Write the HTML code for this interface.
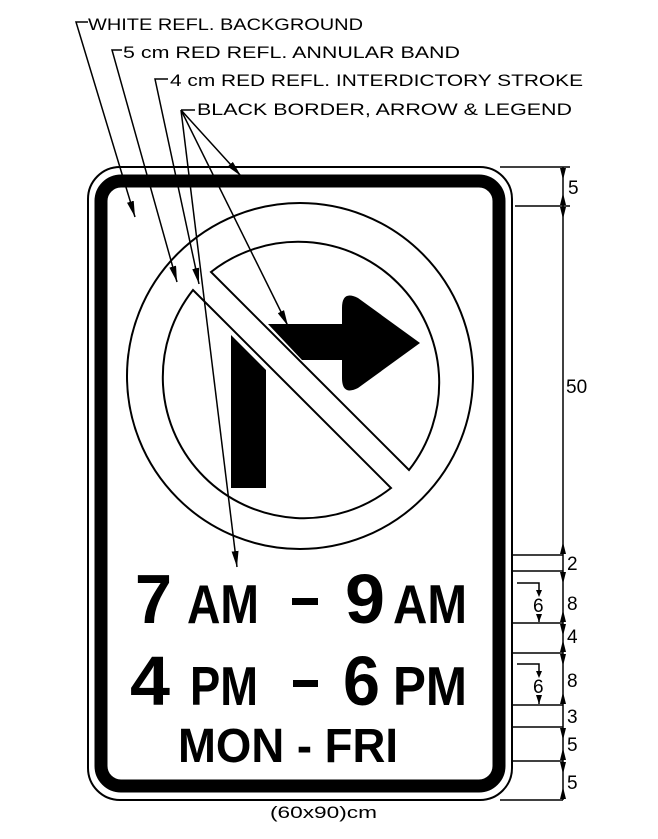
<!DOCTYPE html>
<html><head><style>
html,body{margin:0;padding:0;background:#fff;}
svg{display:block;}
text{font-family:"Liberation Sans",sans-serif;fill:#000;}
</style></head><body>
<svg width="658" height="839" viewBox="0 0 658 839" xmlns="http://www.w3.org/2000/svg">
<defs>
<marker id="ar2" markerWidth="16" markerHeight="7" refX="16" refY="3.5" orient="auto" markerUnits="userSpaceOnUse">
<path d="M0,0 L16,3.5 L0,7 Z" fill="#000"/>
</marker>
</defs>
<rect x="88" y="167" width="424" height="633" rx="32" fill="#fff" stroke="#000" stroke-width="2"/>
<rect x="101" y="181" width="398" height="605" rx="20" fill="none" stroke="#000" stroke-width="13"/>
<circle cx="300" cy="376" r="173" fill="none" stroke="#000" stroke-width="2"/>
<path d="M211,272 A141,141 0 0 1 409,470 Z" fill="none" stroke="#000" stroke-width="2"/>
<path d="M391,488 A141,141 0 0 1 193,290 Z" fill="none" stroke="#000" stroke-width="2"/>
<path d="M268,324 L342,324 L342,308 Q342,290 358,298 L420,343 L358,388 Q342,396 342,378 L342,360 L302,360 Z" fill="#000"/>
<path d="M231,335 L266,370 L266,488 L231,488 Z" fill="#000"/>
<text x="135" y="623" font-size="70" font-weight="bold" textLength="37" lengthAdjust="spacingAndGlyphs">7</text>
<text x="187" y="623" font-size="55" font-weight="bold" textLength="72" lengthAdjust="spacingAndGlyphs">AM</text>
<rect x="292" y="598" width="26" height="7" fill="#000"/>
<text x="345" y="623" font-size="70" font-weight="bold" textLength="40" lengthAdjust="spacingAndGlyphs">9</text>
<text x="393" y="623" font-size="55" font-weight="bold" textLength="74" lengthAdjust="spacingAndGlyphs">AM</text>
<text x="130" y="705" font-size="70" font-weight="bold" textLength="40" lengthAdjust="spacingAndGlyphs">4</text>
<text x="190" y="705" font-size="55" font-weight="bold" textLength="68" lengthAdjust="spacingAndGlyphs">PM</text>
<rect x="293" y="680" width="25" height="7" fill="#000"/>
<text x="343" y="705" font-size="70" font-weight="bold" textLength="37" lengthAdjust="spacingAndGlyphs">6</text>
<text x="393" y="705" font-size="55" font-weight="bold" textLength="74" lengthAdjust="spacingAndGlyphs">PM</text>
<text x="178" y="762" font-size="48" font-weight="bold" textLength="220" lengthAdjust="spacingAndGlyphs">MON - FRI</text>
<text x="270" y="818" font-size="17" textLength="107" lengthAdjust="spacingAndGlyphs">(60x90)cm</text>
<text x="88" y="30" font-size="17" textLength="275" lengthAdjust="spacingAndGlyphs">WHITE REFL. BACKGROUND</text>
<text x="123" y="58" font-size="17" textLength="337" lengthAdjust="spacingAndGlyphs">5 cm RED REFL. ANNULAR BAND</text>
<text x="170" y="86" font-size="17" textLength="413" lengthAdjust="spacingAndGlyphs">4 cm RED REFL. INTERDICTORY STROKE</text>
<text x="197" y="115" font-size="17" textLength="375" lengthAdjust="spacingAndGlyphs">BLACK BORDER, ARROW &amp; LEGEND</text>
<g stroke="#000" stroke-width="1.5" fill="none">
<polyline points="88,22 76,22 135,217" marker-end="url(#ar2)"/>
<polyline points="122,50 112,50 177,282" marker-end="url(#ar2)"/>
<polyline points="168,79 155,79 199,284" marker-end="url(#ar2)"/>
<line x1="195" y1="110" x2="181" y2="110"/>
<line x1="181" y1="110" x2="241" y2="176" marker-end="url(#ar2)"/>
<line x1="181" y1="110" x2="288" y2="326" marker-end="url(#ar2)"/>
<line x1="181" y1="110" x2="237" y2="567" marker-end="url(#ar2)"/>
</g>
<g stroke="#000" stroke-width="1.5">
<line x1="563" y1="167" x2="563" y2="800"/>
<line x1="500" y1="167" x2="570" y2="167"/>
<line x1="515" y1="206" x2="570" y2="206"/>
<line x1="513" y1="555" x2="563" y2="555"/>
<line x1="513" y1="571" x2="563" y2="571"/>
<line x1="513" y1="623" x2="563" y2="623"/>
<line x1="513" y1="653" x2="563" y2="653"/>
<line x1="513" y1="705" x2="563" y2="705"/>
<line x1="513" y1="727" x2="563" y2="727"/>
<line x1="513" y1="761" x2="563" y2="761"/>
<line x1="500" y1="800" x2="563" y2="800"/>
<polyline points="517,583 539,583 539,592" fill="none"/>
<line x1="539" y1="614" x2="539" y2="622"/>
<polyline points="517,664 539,664 539,673" fill="none"/>
<line x1="539" y1="695" x2="539" y2="704"/>
</g>
<g fill="#000">
<path d="M560,168 L566,168 L563,180 Z"/><path d="M560,205 L566,205 L563,193 Z"/>
<path d="M560,207 L566,207 L563,219 Z"/><path d="M560,554 L566,554 L563,542 Z"/>
<path d="M560,572 L566,572 L563,584 Z"/><path d="M560,622 L566,622 L563,610 Z"/>
<path d="M560,624 L566,624 L563,636 Z"/><path d="M560,652 L566,652 L563,640 Z"/>
<path d="M560,654 L566,654 L563,666 Z"/><path d="M560,704 L566,704 L563,692 Z"/>
<path d="M560,728 L566,728 L563,740 Z"/><path d="M560,760 L566,760 L563,748 Z"/>
<path d="M560,762 L566,762 L563,774 Z"/><path d="M560,799 L566,799 L563,787 Z"/>
<path d="M536,590 L542,590 L539,597 Z"/><path d="M536,614 L542,614 L539,622 Z"/>
<path d="M536,671 L542,671 L539,678 Z"/><path d="M536,695 L542,695 L539,704 Z"/>
</g>
<g font-size="19">
<text x="568" y="194">5</text>
<text x="566" y="393">50</text>
<text x="567" y="570">2</text>
<text x="567" y="610">8</text>
<text x="567" y="643">4</text>
<text x="567" y="687">8</text>
<text x="567" y="723">3</text>
<text x="567" y="751">5</text>
<text x="567" y="789">5</text>
<text x="533" y="612">6</text>
<text x="533" y="693">6</text>
</g>
</svg>
</body></html>
